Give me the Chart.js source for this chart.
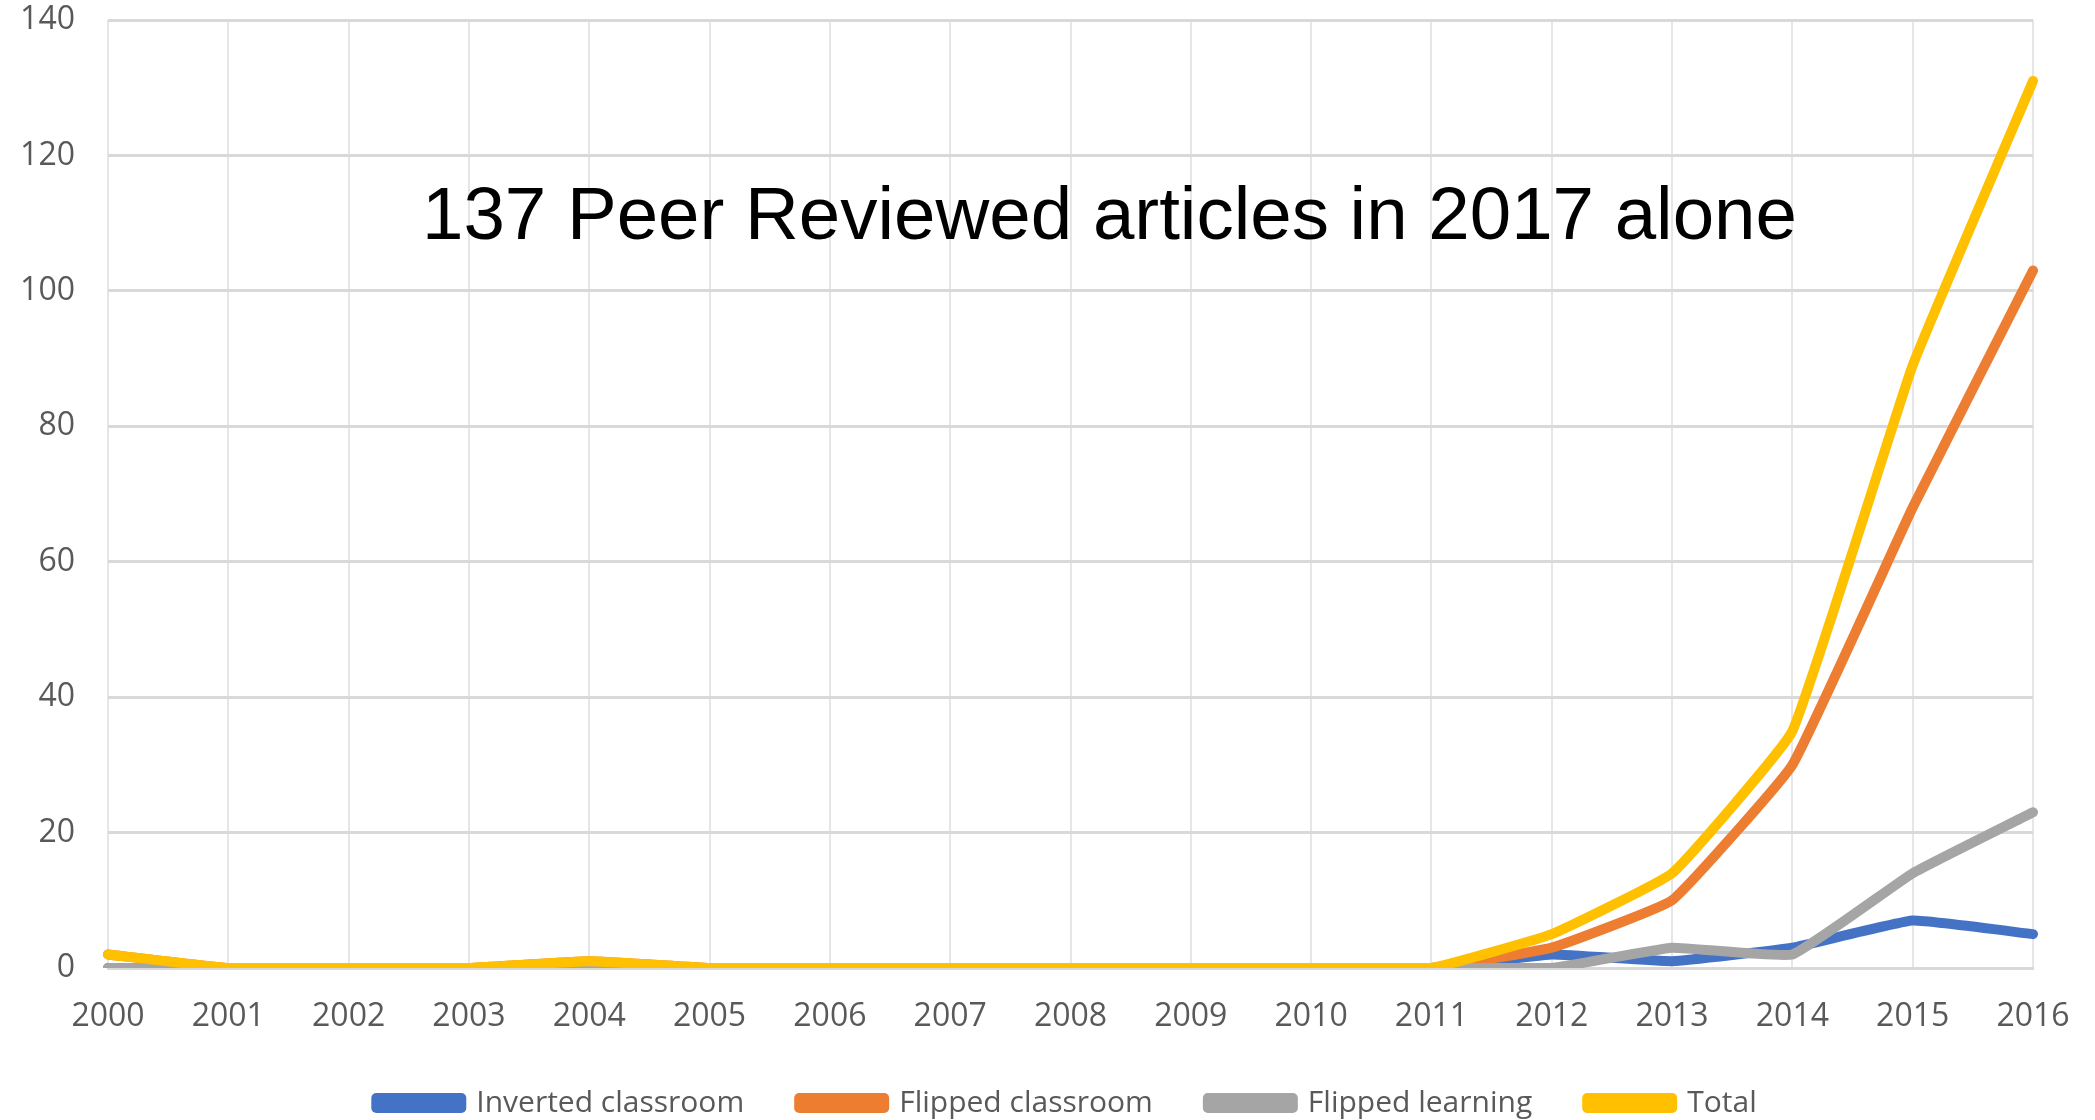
<!DOCTYPE html>
<html>
<head>
<meta charset="utf-8">
<script src="https://cdn.jsdelivr.net/npm/chart.js@4/dist/chart.umd.min.js"></script>
<style>
  html, body { margin: 0; padding: 0; background: #fff; }
  #wrap { width: 2095px; height: 1120px; position: relative; }
</style>
</head>
<body>
<div id="wrap"><canvas id="chart"></canvas></div>
<script>
// data
const years = ["2000", "2001", "2002", "2003", "2004", "2005", "2006", "2007", "2008",
    "2009", "2010", "2011", "2012", "2013", "2014", "2015", "2016"];
const invertedClassroom = [0, 0, 0, 0, 0, 0, 0, 0, 0, 0, 0, 0, 2, 1, 3, 7, 5];
const flippedClassroom = [2, 0, 0, 0, 1, 0, 0, 0, 0, 0, 0, 0, 3, 10, 30, 68, 103];
const flippedLearning = [0, 0, 0, 0, 0, 0, 0, 0, 0, 0, 0, 0, 0, 3, 2, 14, 23];
const total = [2, 0, 0, 0, 1, 0, 0, 0, 0, 0, 0, 0, 5, 14, 35, 89, 131];
const yTicks = [0, 20, 40, 60, 80, 100, 120, 140];
const note = "137 Peer Reviewed articles in 2017 alone";

const tickFont = { family: "'Open Sans', sans-serif", size: 32 };
const legendFont = { family: "'Open Sans', sans-serif", size: 30 };

const notePlugin = {
    id: "note",
    afterLayout(chart) {
        // legend sits a bit right of centre in the original
        chart.legend.left += 50;
        chart.legend.right += 50;
    },
    afterDatasetsDraw(chart) {
        const ctx = chart.ctx;
        ctx.save();
        ctx.font = "74.5px 'Liberation Sans', Arial, sans-serif";
        ctx.fillStyle = "#000";
        ctx.textBaseline = "alphabetic";
        ctx.textAlign = "left";
        ctx.fillText(note, 422, 239);
        ctx.restore();
    },
};

// order: total drawn on top, like the original
const mkSet = (label, data, color, order) => ({
    label: label,
    data: data,
    borderColor: color,
    backgroundColor: color,
    borderWidth: 10,
    pointRadius: 0,
    tension: 0.1,
    borderCapStyle: "round",
    borderJoinStyle: "round",
    order: order,
});

const chart = new Chart(document.getElementById("chart"), {
    type: "line",
    data: {
        labels: years,
        datasets: [
            mkSet("Inverted classroom", invertedClassroom, "#4472C4", 3),
            mkSet("Flipped classroom", flippedClassroom, "#ED7D31", 2),
            mkSet("Flipped learning", flippedLearning, "#A5A5A5", 1),
            mkSet("Total", total, "#FFC000", 0),
        ],
    },
    plugins: [notePlugin],
    options: {
        responsive: true,
        maintainAspectRatio: false,
        animation: false,
        layout: {
            padding: { left: 0, right: 62, top: 0, bottom: 0 },
        },
        plugins: {
            legend: {
                position: "bottom",
                maxHeight: 87,
                labels: {
                    color: "#595959",
                    font: legendFont,
                    boxWidth: 85,
                    boxHeight: 10,
                    padding: 55,
                    sort: (a, b) => a.datasetIndex - b.datasetIndex,
                },
            },
            tooltip: { enabled: false },
        },
        scales: {
            x: {
                offset: false,
                grid: {
                    color: "#e6e6e6",
                    lineWidth: 2,
                    drawTicks: false,
                },
                border: { color: "#d9d9d9", width: 3 },
                ticks: {
                    color: "#595959",
                    font: tickFont,
                    padding: 30,
                    maxRotation: 0,
                    autoSkip: false,
                },
                afterFit: (s) => {
                    s.height = 65;
                    s.paddingLeft = 0;
                    s.paddingRight = 0;
                },
            },
            y: {
                min: 0,
                max: 140,
                afterBuildTicks: (s) => { s.ticks = yTicks.map((v) => ({ value: v })); },
                grid: {
                    color: "#d9d9d9",
                    lineWidth: 3,
                    drawTicks: false,
                },
                border: { display: false },
                ticks: {
                    color: "#595959",
                    font: tickFont,
                    padding: 33,
                },
                afterFit: (s) => {
                    s.width = 108;
                    s.paddingTop = 20;
                    s.paddingBottom = 0;
                },
            },
        },
    },
});
</script>
</body>
</html>
